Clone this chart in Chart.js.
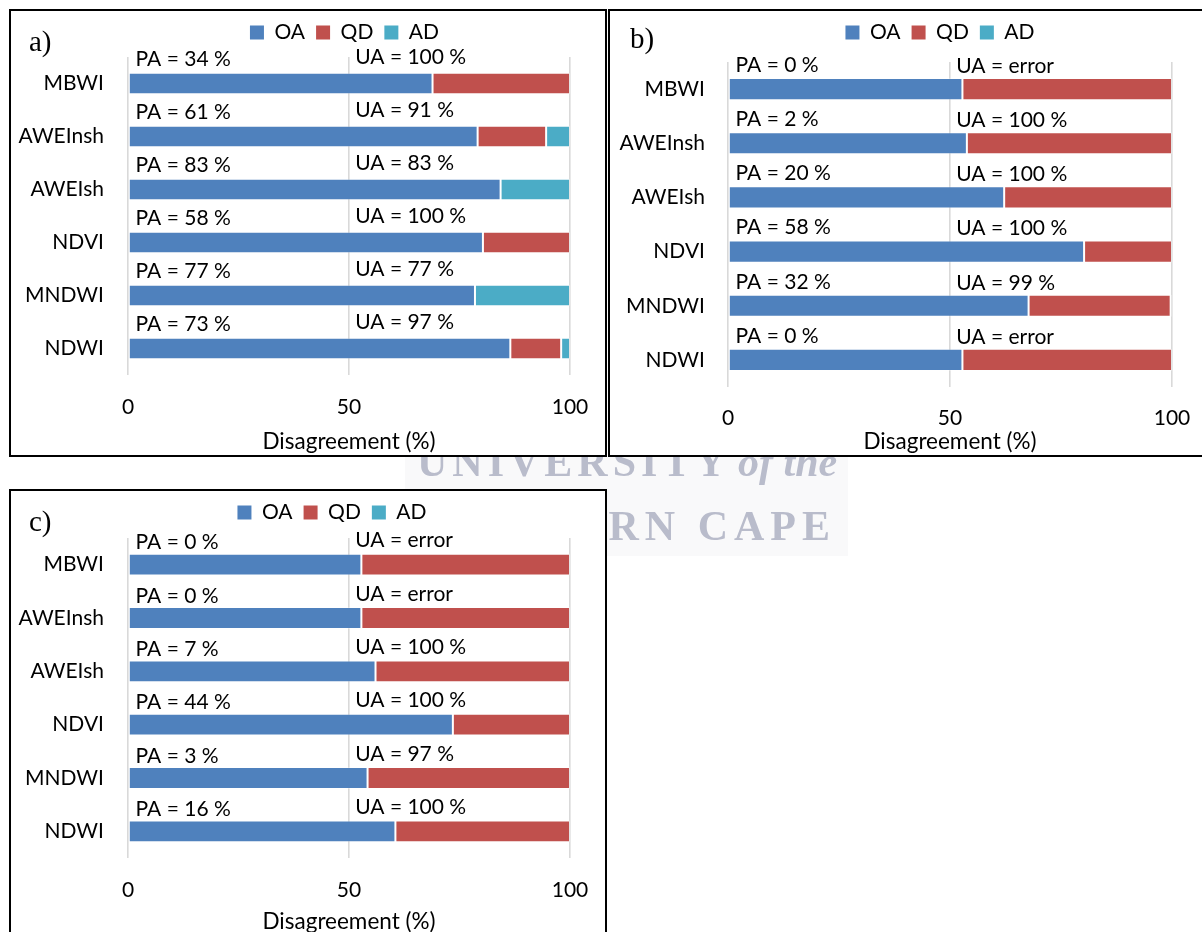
<!DOCTYPE html>
<html>
<head>
<meta charset="utf-8">
<script src="https://cdn.jsdelivr.net/npm/chart.js@4.4.0/dist/chart.umd.min.js"></script>
<style>
  html, body { margin: 0; padding: 0; background: #fff; width: 1202px; height: 932px; overflow: hidden; position: relative; }
  .panel { position: absolute; box-sizing: border-box; border: 2px solid #000; background: #fff; z-index: 2; }
  .panel canvas { position: absolute; left: 0; top: 0; }
  .tag { position: absolute; font-family: 'Liberation Serif', serif; font-size: 29px; line-height: 29px; color: #000; z-index: 3; }
  .wm { position: absolute; font-family: 'Liberation Serif', serif; font-weight: bold; font-size: 42px; line-height: 42px; color: #b9bccb; white-space: nowrap; z-index: 1; filter: blur(0.4px); }
  .haze { position: absolute; left: 405px; top: 455px; width: 443px; height: 101px; background: #f9f9fa; z-index: 0; }
</style>
</head>
<body>
<div class="haze"></div>
<div class="wm" style="left:417px; top:441px; letter-spacing:5px;">UNIVERSITY</div>
<div class="wm" style="left:738px; top:441px; font-style:italic;">of the</div>
<div class="wm" style="left:0; top:505px; width:836px; text-align:right; letter-spacing:6px;">WESTERN CAPE</div>

<div class="panel" style="left:9px; top:9px; width:598px; height:448px;"><canvas id="chartA" width="594" height="444"></canvas></div>
<div class="panel" style="left:608px; top:9px; width:600px; height:448px;"><canvas id="chartB" width="594" height="444"></canvas></div>
<div class="panel" style="left:9px; top:489px; width:598px; height:448px;"><canvas id="chartC" width="594" height="444"></canvas></div>

<div class="tag" style="left:29px; top:27px;">a)</div>
<div class="tag" style="left:630px; top:24px;">b)</div>
<div class="tag" style="left:29px; top:507px;">c)</div>

<script>
// Water indices compared in each panel (top to bottom)
const categories = ['MBWI', 'AWEInsh', 'AWEIsh', 'NDVI', 'MNDWI', 'NDWI'];
const seriesNames = ['OA', 'QD', 'AD'];
const xTicks = [0, 50, 100];

// a) disagreement components (%)
const oaA = [68.9, 79.1, 84.3, 80.3, 78.5, 86.5];
const qdA = [31.1, 15.5, 0, 19.7, 0, 11.5];
const adA = [0, 5.4, 15.7, 0, 21.5, 2.0];
const paA = [34, 61, 83, 58, 77, 73];
const uaA = [100, 91, 83, 100, 77, 97];

// b) disagreement components (%)
const oaB = [52.8, 53.8, 62.2, 80.2, 67.7, 52.8];
const qdB = [47.2, 46.2, 37.8, 19.8, 32.0, 47.2];
const adB = [0, 0, 0, 0, 0.3, 0];
const paB = [0, 2, 20, 58, 32, 0];
const uaB = [null, 100, 100, 100, 99, null];

// c) disagreement components (%)
const oaC = [52.8, 52.8, 56.0, 73.5, 54.2, 60.5];
const qdC = [47.2, 47.2, 44.0, 26.5, 45.8, 39.5];
const adC = [0, 0, 0, 0, 0, 0];
const paC = [0, 0, 7, 44, 3, 16];
const uaC = [null, null, 100, 100, 97, 100];

const seriesColors = ['#4f81bd', '#c0504d', '#4bacc6'];
const FONT = 'Lato, "Noto Sans", sans-serif';

Chart.defaults.color = '#000';
Chart.defaults.font.family = FONT;

function uaText(v) { return 'UA = ' + (v === null ? 'error' : v + ' %'); }

function makePanel(canvasId, oa, qd, ad, pa, ua, L) {
  const values = [oa, qd, ad];

  // PA / UA accuracy notes written above each bar
  const accuracyLabels = {
    id: 'accuracyLabels',
    afterDatasetsDraw(chart) {
      const { ctx, scales: { x, y } } = chart;
      ctx.save();
      ctx.font = '21px ' + FONT;
      ctx.fillStyle = '#000';
      ctx.textBaseline = 'middle';
      ctx.textAlign = 'left';
      categories.forEach((c, i) => {
        const yc = y.getPixelForValue(i);
        ctx.fillText('PA = ' + pa[i] + ' %', x.getPixelForValue(1.7), yc + L.paDy);
        ctx.fillText(uaText(ua[i]), x.getPixelForValue(51.4), yc + L.uaDy);
      });
      ctx.restore();
    }
  };

  // fixed legend band height and horizontal nudge
  const legendPlacement = {
    id: 'legendPlacement',
    beforeLayout(chart) {
      const lg = chart.legend;
      if (lg && !lg._fixedFit) {
        const fit = lg.fit;
        lg.fit = function () { fit.call(this); this.height = L.legH; };
        lg._fixedFit = true;
      }
    },
    afterLayout(chart) {
      chart.legend.left += L.legDx;
      chart.legend.right += L.legDx;
    }
  };

  return new Chart(document.getElementById(canvasId), {
    type: 'bar',
    data: {
      labels: categories,
      datasets: seriesNames.map((name, k) => ({
        label: name,
        data: values[k],
        backgroundColor: seriesColors[k],
        borderColor: 'rgba(255,255,255,0.3)',
        borderWidth: (ctx) => (ctx.raw > 0 ? 1 : 0),
        borderSkipped: false,
        barPercentage: 0.41,
        categoryPercentage: 1.0
      }))
    },
    options: {
      indexAxis: 'y',
      responsive: false,
      animation: false,
      devicePixelRatio: 1,
      layout: { padding: { left: 0, right: L.padR, top: 0, bottom: 0 } },
      plugins: {
        tooltip: { enabled: false },
        legend: {
          position: 'top',
          fullSize: false,
          labels: {
            boxWidth: 14,
            boxHeight: 14,
            padding: 11,
            font: { size: 21, family: FONT },
            color: '#000',
            generateLabels(chart) {
              const items = Chart.defaults.plugins.legend.labels.generateLabels(chart);
              items.forEach(it => { it.lineWidth = 0; it.strokeStyle = 'rgba(0,0,0,0)'; });
              return items;
            }
          }
        }
      },
      scales: {
        x: {
          stacked: true,
          min: 0,
          max: 100,
          afterBuildTicks(scale) { scale.ticks = xTicks.map(v => ({ value: v })); },
          afterFit(scale) { scale.height = L.xH; },
          grid: { color: '#d9d9d9', lineWidth: 1.6, drawTicks: true, tickLength: L.tickGap, tickColor: 'rgba(0,0,0,0)' },
          border: { display: false },
          ticks: { padding: 2, font: { size: 21, family: FONT }, color: '#000', maxRotation: 0 },
          title: {
            display: true,
            text: 'Disagreement (%)',
            font: { size: 22.5, family: FONT },
            color: '#000',
            padding: { top: 0, bottom: 0 }
          }
        },
        y: {
          stacked: true,
          afterFit(scale) { scale.width = L.yW; },
          grid: { display: false, drawTicks: false },
          border: { display: false },
          ticks: { padding: L.yPad, font: { size: 21, family: FONT }, color: '#000' }
        }
      }
    },
    plugins: [legendPlacement, accuracyLabels]
  });
}

makePanel('chartA', oaA, qdA, adA, paA, uaA,
  { yW: 117, padR: 35, legH: 46, xH: 80, tickGap: 18, yPad: 24, legDx: -4.5, paDy: -24, uaDy: -26 });
makePanel('chartB', oaB, qdB, adB, paB, uaB,
  { yW: 118, padR: 32, legH: 51, xH: 68, tickGap: 17, yPad: 23, legDx: -10, paDy: -24, uaDy: -23 });
makePanel('chartC', oaC, qdC, adC, paC, uaC,
  { yW: 117, padR: 35, legH: 47, xH: 77, tickGap: 18, yPad: 24, legDx: -17, paDy: -22, uaDy: -24 });
</script>
</body>
</html>
